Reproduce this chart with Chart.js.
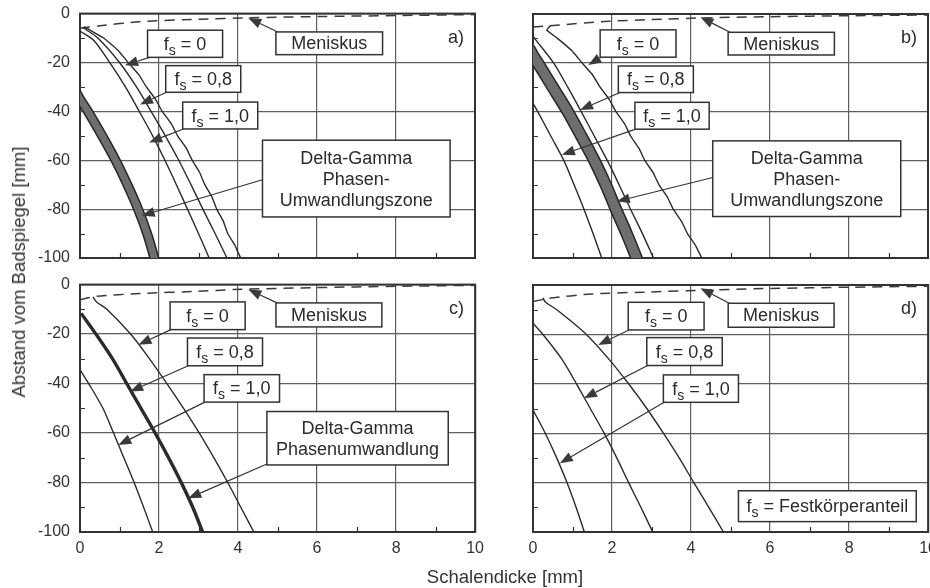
<!DOCTYPE html>
<html>
<head>
<meta charset="utf-8">
<script src="https://cdn.jsdelivr.net/npm/chart.js@4.4.1/dist/chart.umd.min.js"></script>
<style>
  html, body { margin: 0; padding: 0; background: #fff; }
  #page { position: relative; width: 930px; height: 588px; overflow: hidden;
          font-family: "Liberation Sans", Arial, sans-serif; color: #333; }
  #page canvas { position: absolute; }
  .ytitle { position: absolute; left: 19px; top: 272px; font-size: 18.5px; white-space: nowrap;
            transform: translate(-50%, -50%) rotate(-90deg); }
  .xtitle { position: absolute; left: 505px; top: 577px; font-size: 18.5px; white-space: nowrap;
            transform: translate(-50%, -50%); }
</style>
</head>
<body>
<div id="page">
  <canvas id="a"></canvas>
  <canvas id="b"></canvas>
  <canvas id="c"></canvas>
  <canvas id="d"></canvas>
  <div class="ytitle">Abstand vom Badspiegel [mm]</div>
  <div class="xtitle">Schalendicke [mm]</div>
</div>
<script>
// axis ticks
const xTickValues = [0, 2, 4, 6, 8, 10];
const yTickValues = [0, -20, -40, -60, -80, -100];
const xMinor = [1, 3, 5, 7, 9];
const yMinor = [-10, -30, -50, -70, -90];

// panel a)  [Schalendicke mm, Abstand mm]
const meniskusA = [[0,-6],[0.5,-5],[1.5,-3.3],[3,-2.3],[4.3,-1.7],[6,-1.2],[8,-0.8],[10,-0.4]];
const fs0A  = [[0.1,-5.3],[0.6,-10],[0.96,-15],[1.22,-20],[1.49,-25],[1.68,-30],[1.91,-35],[2.08,-40],[2.31,-45],[2.47,-50],
               [2.69,-55],[2.84,-60],[3.03,-65],[3.16,-70],[3.34,-75],[3.46,-80],[3.63,-85],[3.74,-90],[3.93,-95],[3.98,-97],[4.07,-100]];
const fs08A = [[0.06,-5.6],[0.45,-10],[1.0,-20],[1.43,-30],[1.8,-40],[2.16,-50],[2.5,-60],[2.81,-70],[3.11,-80],[3.42,-90],[3.72,-100]];
const fs10A = [[0,-7.2],[0.35,-11],[0.75,-20],[1.15,-30],[1.5,-40],[1.84,-50],[2.15,-60],[2.44,-70],[2.72,-80],[3.0,-90],[3.27,-100]];
const zoneA = [[-0.1,-32],[0,-35],[0.2,-40],[0.56,-50],[0.9,-60],[1.2,-70],[1.47,-80],[1.7,-90],[1.88,-100],[1.91,-103]];

// panel b)
const meniskusB = [[0,-5.3],[0.5,-4.7],[1.9,-3],[3,-2.3],[4.3,-1.6],[6,-1.1],[8,-0.7],[10,-0.4]];
const fs0B  = [[0.45,-4.6],[0.35,-6.6],[0.62,-10],[0.98,-15],[1.24,-20],[1.51,-25],[1.7,-30],[1.93,-35],[2.1,-40],[2.32,-45],
               [2.47,-50],[2.68,-55],[2.83,-60],[3.04,-65],[3.19,-70],[3.4,-75],[3.55,-80],[3.76,-85],[3.91,-90],[4.12,-95],[4.27,-100]];
const fs08B = [[0,-9],[0.04,-10],[0.52,-20],[0.88,-30],[1.22,-40],[1.55,-50],[1.88,-60],[2.18,-70],[2.47,-80],[2.77,-90],[3.05,-100]];
const fs10B = [[0,-36.6],[0.12,-40],[0.45,-50],[0.78,-60],[1.04,-70],[1.29,-80],[1.52,-90],[1.74,-100]];
const zoneB = [[-0.1,-14],[0,-17],[0.12,-20],[0.5,-30],[0.88,-40],[1.22,-50],[1.55,-60],[1.84,-70],[2.1,-80],[2.37,-90],[2.62,-100],[2.65,-102]];

// panel c)
const meniskusC = [[0,-6.1],[0.42,-4.7],[1.52,-3.6],[3,-2.7],[3.88,-2.0],[6,-1.2],[8,-0.7],[10,-0.3]];
const fs0C  = [[0.33,-5],[0.42,-7],[0.68,-10],[1.28,-20],[1.76,-30],[2.2,-40],[2.62,-50],[3.02,-60],[3.39,-70],[3.74,-80],[4.07,-90],[4.4,-100]];
const fs08C = [[0,-11.5],[0.38,-20],[0.8,-30],[1.16,-40],[1.52,-50],[1.88,-60],[2.22,-70],[2.54,-80],[2.83,-90],[3.08,-100]];
const fs10C = [[0,-34.4],[0.22,-40],[0.58,-50],[0.85,-60],[1.11,-70],[1.37,-80],[1.61,-90],[1.84,-100]];
const zoneC = [[0.04,-11.5],[0.42,-20],[0.84,-30],[1.2,-40],[1.56,-50],[1.92,-60],[2.26,-70],[2.58,-80],[2.87,-90],[3.12,-100]];

// panel d)
const meniskusD = [[0,-6.7],[0.4,-5.4],[1.5,-3.6],[3,-2.8],[4.3,-2.1],[6,-1.4],[8,-0.9],[10,-0.5]];
const fs0D  = [[0.25,-5.2],[0.32,-7],[0.6,-10],[1.35,-20],[1.92,-30],[2.42,-40],[2.88,-50],[3.3,-60],[3.7,-70],[4.07,-80],[4.45,-90],[4.82,-100]];
const fs08D = [[0,-15.5],[0.25,-20],[0.73,-30],[1.1,-40],[1.45,-50],[1.8,-60],[2.12,-70],[2.42,-80],[2.73,-90],[3.03,-100]];
const fs10D = [[0,-50.6],[0.31,-60],[0.6,-70],[0.86,-80],[1.09,-90],[1.3,-100]];

// plot areas in page pixels
const layout = {
  a: { l: 80,  t: 14,  w: 395, h: 244, showX: false, showY: true },
  b: { l: 533, t: 14,  w: 395, h: 244, showX: false, showY: false },
  c: { l: 80,  t: 285, w: 395, h: 247, showX: true,  showY: true },
  d: { l: 533, t: 285, w: 395, h: 247, showX: true,  showY: false }
};

// annotation boxes and arrows, in data coordinates
const FS = (v) => ({ fs: v });
const notes = {
  a: {
    letter: 'a)',
    boxes: [
      { x: [4.96, 7.66], y: [-7.5, -16.8], text: ['Meniskus'] },
      { x: [1.71, 3.61], y: [-6.8, -17.9], text: FS('0') },
      { x: [2.17, 4.07], y: [-21.3, -32.2], text: FS('0,8') },
      { x: [2.6, 4.5], y: [-36.2, -47.2], text: FS('1,0') },
      { x: [4.62, 9.37], y: [-51.8, -83.2], text: ['Delta-Gamma', 'Phasen-', 'Umwandlungszone'] }
    ],
    arrows: [[5.02, -7.6, 4.26, -1.8], [1.76, -17.9, 1.14, -21.1], [2.19, -32.2, 1.52, -37.2],
             [2.62, -47.2, 1.75, -52.7], [4.62, -68, 1.56, -82.7]]
  },
  b: {
    letter: 'b)',
    boxes: [
      { x: [4.94, 7.63], y: [-7.5, -16.8], text: ['Meniskus'] },
      { x: [1.70, 3.62], y: [-6.5, -17.7], text: FS('0') },
      { x: [2.16, 4.06], y: [-21.3, -32.2], text: FS('0,8') },
      { x: [2.58, 4.46], y: [-36.2, -47.2], text: FS('1,0') },
      { x: [4.55, 9.31], y: [-52, -83], text: ['Delta-Gamma', 'Phasen-', 'Umwandlungszone'] }
    ],
    arrows: [[5.0, -7.6, 4.24, -1.3], [1.73, -17.7, 1.40, -20.9], [2.2, -32.2, 1.19, -39.3],
             [2.6, -47.2, 0.73, -57.7], [4.55, -67, 2.12, -76.8]]
  },
  c: {
    letter: 'c)',
    boxes: [
      { x: [4.96, 7.64], y: [-7.4, -17.1], text: ['Meniskus'] },
      { x: [2.28, 4.18], y: [-7, -18.2], text: FS('0') },
      { x: [2.72, 4.62], y: [-21.6, -32.8], text: FS('0,8') },
      { x: [3.14, 5.05], y: [-36.4, -47.5], text: FS('1,0') },
      { x: [4.73, 9.32], y: [-51.3, -72.9], text: ['Delta-Gamma', 'Phasenumwandlung'] }
    ],
    arrows: [[5.0, -7.5, 4.26, -2], [2.3, -18.2, 1.48, -24.3], [2.74, -32.8, 1.27, -43.2],
             [3.16, -47.5, 0.97, -64.8], [4.73, -72.5, 2.74, -86.4]]
  },
  d: {
    letter: 'd)',
    boxes: [
      { x: [4.94, 7.62], y: [-7.4, -17.1], text: ['Meniskus'] },
      { x: [2.41, 4.33], y: [-7, -18.2], text: FS('0') },
      { x: [2.88, 4.79], y: [-21.3, -32.6], text: FS('0,8') },
      { x: [3.3, 5.2], y: [-36.4, -47.5], text: FS('1,0') },
      { x: [5.2, 9.7], y: [-83.3, -95.8], text: FS('Festkörperanteil') }
    ],
    arrows: [[4.98, -7.5, 4.24, -1.3], [2.43, -18.2, 1.65, -24.3], [2.9, -32.6, 1.29, -45.9],
             [3.32, -47.5, 0.68, -72.2]]
  }
};

const FONT = '"Liberation Sans", Arial, sans-serif';
const INK = '#2b2b2b';

Chart.defaults.font.family = FONT;
Chart.defaults.font.size = 16;
Chart.defaults.color = '#333';

function drawArrow(ctx, x0, y0, x1, y1) {
  const ang = Math.atan2(y1 - y0, x1 - x0);
  const len = 13, half = 5;
  const bx = x1 - Math.cos(ang) * len, by = y1 - Math.sin(ang) * len;
  ctx.strokeStyle = '#333';
  ctx.lineWidth = 1.2;
  ctx.beginPath();
  ctx.moveTo(x0, y0);
  ctx.lineTo(bx, by);
  ctx.stroke();
  ctx.fillStyle = '#3a3a3a';
  ctx.beginPath();
  ctx.moveTo(x1, y1);
  ctx.lineTo(bx - Math.sin(ang) * half, by + Math.cos(ang) * half);
  ctx.lineTo(bx + Math.sin(ang) * half, by - Math.cos(ang) * half);
  ctx.closePath();
  ctx.fill();
}

const framePlugin = {
  id: 'frame',
  beforeDatasetsDraw(chart) {
    const { ctx, chartArea: a, scales: { x, y } } = chart;
    ctx.save();
    ctx.strokeStyle = '#333';
    ctx.lineWidth = 1.2;
    ctx.beginPath();
    xMinor.forEach(v => {
      const px = Math.round(x.getPixelForValue(v)) + 0.5;
      ctx.moveTo(px, a.bottom);
      ctx.lineTo(px, a.bottom - 5);
    });
    yMinor.forEach(v => {
      const py = Math.round(y.getPixelForValue(v)) + 0.5;
      ctx.moveTo(a.left, py);
      ctx.lineTo(a.left + 5, py);
    });
    ctx.stroke();
    ctx.lineWidth = 2;
    ctx.strokeRect(a.left, a.top, a.right - a.left, a.bottom - a.top);
    ctx.restore();
  }
};

const notePlugin = {
  id: 'notes',
  afterDatasetsDraw(chart) {
    const n = notes[chart.canvas.id];
    const { ctx, scales: { x, y } } = chart;
    const px = v => x.getPixelForValue(v), py = v => y.getPixelForValue(v);
    ctx.save();
    n.arrows.forEach(a => drawArrow(ctx, px(a[0]), py(a[1]), px(a[2]), py(a[3])));
    n.boxes.forEach(b => {
      const x0 = px(b.x[0]), x1 = px(b.x[1]), y0 = py(b.y[0]), y1 = py(b.y[1]);
      ctx.fillStyle = '#fff';
      ctx.fillRect(x0, y0, x1 - x0, y1 - y0);
      ctx.strokeStyle = '#333';
      ctx.lineWidth = 1.5;
      ctx.strokeRect(x0, y0, x1 - x0, y1 - y0);
      const cx = (x0 + x1) / 2, cy = (y0 + y1) / 2;
      ctx.fillStyle = INK;
      if (Array.isArray(b.text)) {
        ctx.font = '18px ' + FONT;
        ctx.textAlign = 'center';
        ctx.textBaseline = 'middle';
        const lh = 21;
        b.text.forEach((t, i) => ctx.fillText(t, cx, cy + (i - (b.text.length - 1) / 2) * lh + 1));
      } else {
        // f with subscript s
        const big = '18px ' + FONT, small = '14px ' + FONT;
        const tail = ' = ' + b.text.fs;
        ctx.font = big; const wf = ctx.measureText('f').width, wt = ctx.measureText(tail).width;
        ctx.font = small; const ws = ctx.measureText('s').width;
        let sx = cx - (wf + ws + wt) / 2;
        const base = cy + 6;
        ctx.textAlign = 'left';
        ctx.textBaseline = 'alphabetic';
        ctx.font = big; ctx.fillText('f', sx, base); sx += wf;
        ctx.font = small; ctx.fillText('s', sx, base + 5); sx += ws;
        ctx.font = big; ctx.fillText(tail, sx, base);
      }
    });
    ctx.font = '18px ' + FONT;
    ctx.fillStyle = INK;
    ctx.textAlign = 'right';
    ctx.textBaseline = 'middle';
    ctx.fillText(n.letter, px(9.72), py(-9.8));
    ctx.restore();
  }
};

function series(pts, opt) {
  return Object.assign({
    data: pts.map(p => ({ x: p[0], y: p[1] })),
    showLine: true, pointRadius: 0, borderColor: INK, borderWidth: 1.4,
    tension: 0.3, clip: 0, fill: false
  }, opt);
}

// first dataset is drawn on top, so the grey core comes first
function band(pts, width) {
  return [
    series(pts, { borderColor: '#6e6e6e', borderWidth: width - 2 }),
    series(pts, { borderColor: '#262626', borderWidth: width + 1 })
  ];
}

function dashed(pts) {
  return series(pts, { borderColor: '#3a3a3a', borderWidth: 1.5, borderDash: [10, 7], tension: 0.2 });
}

const panelData = {
  a: () => [...band(zoneA, 9), series(fs10A), series(fs08A), series(fs0A, { tension: 0.1 }), dashed(meniskusA)],
  b: () => [...band(zoneB, 11.5), series(fs10B), series(fs08B), series(fs0B, { tension: 0.1 }), dashed(meniskusB)],
  c: () => [series(zoneC, { borderWidth: 2.2 }), series(fs10C), series(fs08C, { borderWidth: 1.8 }), series(fs0C), dashed(meniskusC)],
  d: () => [series(fs10D), series(fs08D), series(fs0D), dashed(meniskusD)]
};

function build(id, L, cw, ch) {
  const cv = document.getElementById(id);
  cv.width = cw;
  cv.height = ch;
  cv.style.width = cw + 'px';
  cv.style.height = ch + 'px';
  return new Chart(cv, {
    type: 'scatter',
    data: { datasets: panelData[id]() },
    options: {
      responsive: false,
      maintainAspectRatio: false,
      animation: false,
      events: [],
      layout: { padding: { top: 14, right: 5, left: 0, bottom: 0 }, autoPadding: false },
      plugins: { legend: { display: false }, tooltip: { enabled: false } },
      scales: {
        x: {
          type: 'linear', min: 0, max: 10,
          afterBuildTicks: s => { s.ticks = xTickValues.map(v => ({ value: v })); },
          afterFit: s => { s.height = 40; },
          ticks: { display: L.showX, padding: 7, color: '#333', font: { size: 16 } },
          grid: { color: '#5f5f5f', lineWidth: 1.2, drawTicks: false },
          border: { display: false }
        },
        y: {
          type: 'linear', min: -100, max: 0,
          afterBuildTicks: s => { s.ticks = yTickValues.map(v => ({ value: v })); },
          afterFit: s => { s.width = 80; },
          ticks: { display: L.showY, padding: 10, color: '#333', font: { size: 16 } },
          grid: { color: '#5f5f5f', lineWidth: 1.2, drawTicks: false },
          border: { display: false }
        }
      }
    },
    plugins: [framePlugin, notePlugin]
  });
}

Object.keys(layout).forEach(id => {
  const L = layout[id];
  let cw = L.w + 85, ch = L.h + 54;
  let chart = build(id, L, cw, ch);
  // make the plot area match the wanted size exactly
  const ca = chart.chartArea;
  const dw = L.w - Math.round(ca.right - ca.left), dh = L.h - Math.round(ca.bottom - ca.top);
  if (dw || dh) {
    chart.destroy();
    cw += dw; ch += dh;
    chart = build(id, L, cw, ch);
  }
  const cv = chart.canvas;
  cv.style.left = (L.l - Math.round(chart.chartArea.left)) + 'px';
  cv.style.top = (L.t - Math.round(chart.chartArea.top)) + 'px';
});
</script>
</body>
</html>
